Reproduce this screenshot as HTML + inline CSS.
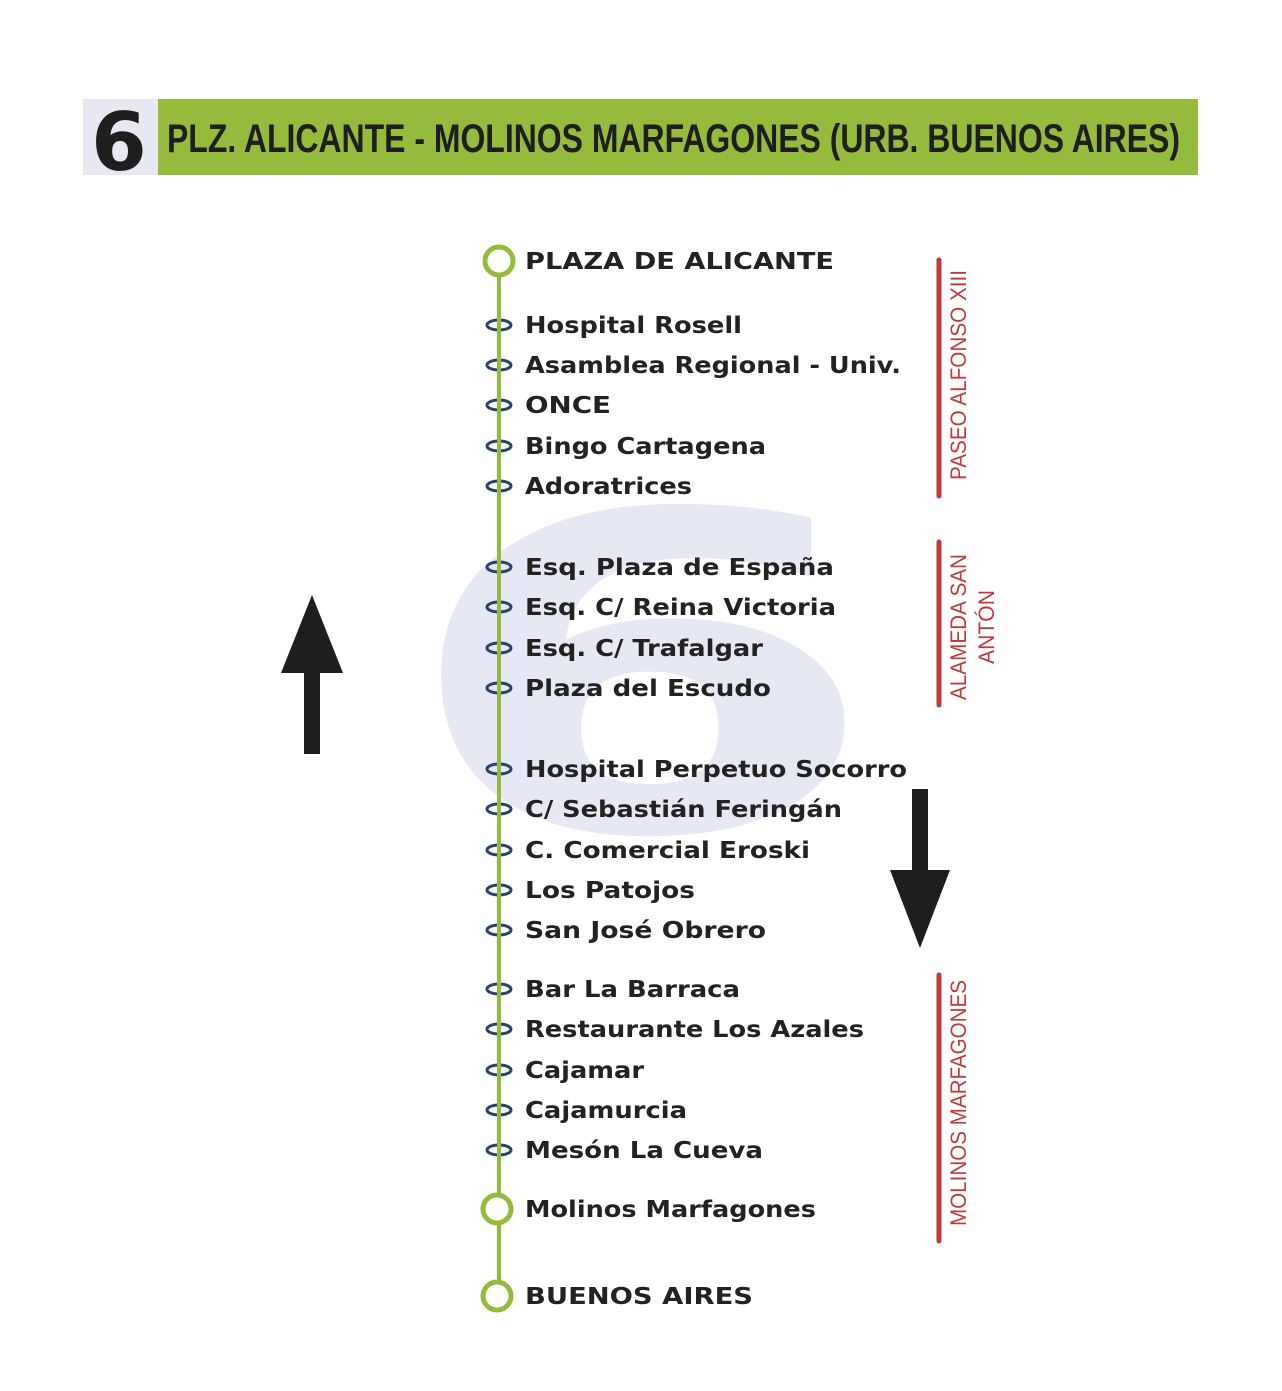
<!DOCTYPE html>
<html><head><meta charset="utf-8"><style>
html,body{margin:0;padding:0;background:#fff;width:1282px;height:1391px;overflow:hidden}
svg{display:block}
.s{font-family:"DejaVu Sans","Liberation Sans",sans-serif;font-weight:bold;font-size:23px;fill:#222}
.r{font-family:"Liberation Sans",sans-serif;font-size:22px;fill:#c0393b}
</style></head><body>
<svg width="1282" height="1391" viewBox="0 0 1282 1391" xmlns="http://www.w3.org/2000/svg">
<rect x="83" y="99" width="75" height="76" fill="#e8e8f2"/>
<rect x="158" y="99" width="1040" height="76" fill="#94bb3c"/>
<text x="119" y="170" text-anchor="middle" font-family="DejaVu Sans,sans-serif" font-weight="bold" font-size="80" fill="#1e1e1e">6</text>
<text x="167" y="152" textLength="1013" lengthAdjust="spacingAndGlyphs" font-family="Liberation Sans Narrow,Liberation Sans,sans-serif" font-weight="bold" font-size="40" fill="#1e1e1e">PLZ. ALICANTE - MOLINOS MARFAGONES (URB. BUENOS AIRES)</text>
<g transform="translate(640,0) scale(1.58,1) translate(-640,0)">
<text x="640" y="830" text-anchor="middle" font-family="DejaVu Sans,sans-serif" font-weight="bold" font-size="440" fill="#e6e8f3">6</text>
</g>
<line x1="499" y1="261" x2="499" y2="1296" stroke="#94bb3c" stroke-width="4"/>
<g fill="none" stroke="#2a4270" stroke-width="3">
<ellipse cx="499" cy="325" rx="12" ry="5"/><ellipse cx="499" cy="365" rx="12" ry="5"/><ellipse cx="499" cy="405" rx="12" ry="5"/><ellipse cx="499" cy="446" rx="12" ry="5"/><ellipse cx="499" cy="486" rx="12" ry="5"/>
<ellipse cx="499" cy="567" rx="12" ry="5"/><ellipse cx="499" cy="607" rx="12" ry="5"/><ellipse cx="499" cy="648" rx="12" ry="5"/><ellipse cx="499" cy="688" rx="12" ry="5"/>
<ellipse cx="499" cy="769" rx="12" ry="5"/><ellipse cx="499" cy="809" rx="12" ry="5"/><ellipse cx="499" cy="850" rx="12" ry="5"/><ellipse cx="499" cy="890" rx="12" ry="5"/><ellipse cx="499" cy="930" rx="12" ry="5"/>
<ellipse cx="499" cy="989" rx="12" ry="5"/><ellipse cx="499" cy="1029" rx="12" ry="5"/><ellipse cx="499" cy="1070" rx="12" ry="5"/><ellipse cx="499" cy="1110" rx="12" ry="5"/><ellipse cx="499" cy="1150" rx="12" ry="5"/>
</g>
<g stroke="#94bb3c" stroke-width="4"><line x1="499" y1="300" x2="499" y2="1290"/></g>
<g fill="#fff" stroke="#94bb3c" stroke-width="5">
<circle cx="499" cy="261" r="14"/><circle cx="497" cy="1209" r="14"/><circle cx="497" cy="1296" r="14"/>
</g>
<g class="s">
<text x="525" y="269" textLength="309" lengthAdjust="spacingAndGlyphs">PLAZA DE ALICANTE</text>
<text x="525" y="333" textLength="217" lengthAdjust="spacingAndGlyphs">Hospital Rosell</text>
<text x="525" y="373" textLength="376" lengthAdjust="spacingAndGlyphs">Asamblea Regional - Univ.</text>
<text x="525" y="413" textLength="86" lengthAdjust="spacingAndGlyphs">ONCE</text>
<text x="525" y="454" textLength="241" lengthAdjust="spacingAndGlyphs">Bingo Cartagena</text>
<text x="525" y="494" textLength="167" lengthAdjust="spacingAndGlyphs">Adoratrices</text>
<text x="525" y="575" textLength="309" lengthAdjust="spacingAndGlyphs">Esq. Plaza de España</text>
<text x="525" y="615" textLength="311" lengthAdjust="spacingAndGlyphs">Esq. C/ Reina Victoria</text>
<text x="525" y="656" textLength="238" lengthAdjust="spacingAndGlyphs">Esq. C/ Trafalgar</text>
<text x="525" y="696" textLength="246" lengthAdjust="spacingAndGlyphs">Plaza del Escudo</text>
<text x="525" y="777" textLength="382" lengthAdjust="spacingAndGlyphs">Hospital Perpetuo Socorro</text>
<text x="525" y="817" textLength="317" lengthAdjust="spacingAndGlyphs">C/ Sebastián Feringán</text>
<text x="525" y="858" textLength="285" lengthAdjust="spacingAndGlyphs">C. Comercial Eroski</text>
<text x="525" y="898" textLength="170" lengthAdjust="spacingAndGlyphs">Los Patojos</text>
<text x="525" y="938" textLength="241" lengthAdjust="spacingAndGlyphs">San José Obrero</text>
<text x="525" y="997" textLength="215" lengthAdjust="spacingAndGlyphs">Bar La Barraca</text>
<text x="525" y="1037" textLength="339" lengthAdjust="spacingAndGlyphs">Restaurante Los Azales</text>
<text x="525" y="1078" textLength="119" lengthAdjust="spacingAndGlyphs">Cajamar</text>
<text x="525" y="1118" textLength="162" lengthAdjust="spacingAndGlyphs">Cajamurcia</text>
<text x="525" y="1158" textLength="238" lengthAdjust="spacingAndGlyphs">Mesón La Cueva</text>
<text x="525" y="1217" textLength="291" lengthAdjust="spacingAndGlyphs">Molinos Marfagones</text>
<text x="525" y="1304" textLength="228" lengthAdjust="spacingAndGlyphs">BUENOS AIRES</text>
</g>
<g stroke="#c0393b" stroke-width="5" stroke-linecap="round">
<line x1="939" y1="260" x2="939" y2="496"/>
<line x1="939" y1="542" x2="939" y2="705"/>
<line x1="939" y1="975" x2="939" y2="1241"/>
</g>
<g class="r">
<text transform="translate(966,480) rotate(-90)" textLength="210" lengthAdjust="spacingAndGlyphs">PASEO ALFONSO XIII</text>
<text transform="translate(966,700) rotate(-90)" textLength="146" lengthAdjust="spacingAndGlyphs">ALAMEDA SAN</text>
<text transform="translate(994,664) rotate(-90)" textLength="74" lengthAdjust="spacingAndGlyphs">ANTÓN</text>
<text transform="translate(966,1226) rotate(-90)" textLength="246" lengthAdjust="spacingAndGlyphs">MOLINOS MARFAGONES</text>
</g>
<polygon points="312,595 343,673 320,673 320,754 304,754 304,673 281,673" fill="#1e1e1e"/>
<polygon points="912,789 928,789 928,870 950,870 920,948 890,870 912,870" fill="#1e1e1e"/>
</svg>
</body></html>
